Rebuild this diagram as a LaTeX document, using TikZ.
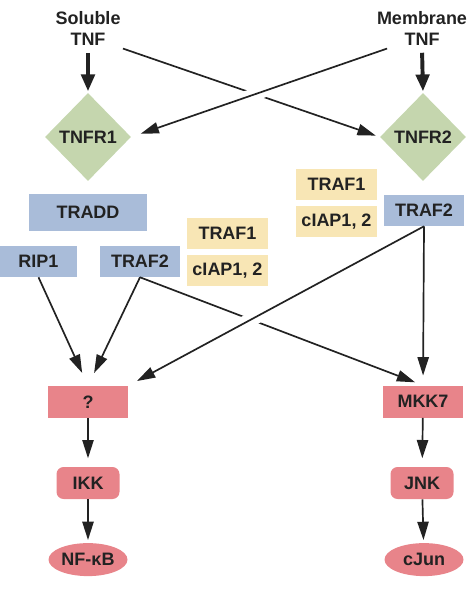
\documentclass[tikz,border=0pt]{standalone}
\usepackage{fontspec}
\setmainfont{Liberation Sans}
\usepackage{tikz}
\usetikzlibrary{calc, arrows.meta, positioning, shapes.geometric}
\usepackage{xcolor}
\definecolor{recgreen}{HTML}{C5D6AE}
\definecolor{adpblue}{HTML}{A9BCD9}
\definecolor{trafyellow}{HTML}{F8E6B5}
\definecolor{kinred}{HTML}{E8848A}
\definecolor{inkgray}{HTML}{222222}

\begin{document}
\begin{tikzpicture}[
    lbl/.style={font=\fontsize{12.8}{15}\selectfont\bfseries, text=inkgray},
    lig/.style={lbl, align=center, inner sep=2pt},
    rec/.style={lbl, diamond, fill=recgreen, minimum width=2.15cm,
                minimum height=2.2cm, inner sep=0pt},
    adp/.style={lbl, fill=adpblue, minimum width=2cm, minimum height=0.775cm},
    traf/.style={lbl, fill=trafyellow, minimum width=2.025cm, minimum height=0.775cm},
    kin/.style={lbl, fill=kinred, minimum width=2cm, minimum height=0.8cm},
    tf/.style={lbl, ellipse, fill=kinred, minimum width=1.975cm,
               minimum height=0.825cm, inner sep=0pt},
    link/.style={draw=inkgray, line width=1.2pt,
                 -{Triangle[length=13pt, width=8pt]}, shorten >=5pt},
    bind/.style={link, line width=2.8pt, -{Triangle[length=12pt, width=9.5pt]},
                 shorten >=1pt, shorten <=3pt},
    bridge/.style={preaction={draw=white, -, line width=#1,
                   shorten <=30pt, shorten >=30pt}}
  ]
    \useasboundingbox (0,0) rectangle (11.9,-14.875);

    % Ligands and receptors
    \node[lig] (sol) at (2.2,-0.71)   {Soluble\\TNF};
    \node[lig] (mem) at (10.55,-0.71) {Membrane\\TNF};
    \node[rec] (tnfr1) at (2.2,-3.425)    {TNFR1};
    \node[rec] (tnfr2) at (10.575,-3.425) {TNFR2};

    % Adaptors
    \node[adp, minimum width=2.95cm, minimum height=0.925cm] (tradd) at (2.2,-5.3125) {TRADD};
    \node[adp, minimum width=1.925cm] (rip) at (0.9625,-6.5375) {RIP1};
    \node[adp] (traf2l) at (3.5,-6.5375) {TRAF2};
    \node[traf] (traf1l) at (5.6875,-5.8375) {TRAF1};
    \node[traf] (ciapl)  at (5.6875,-6.7625) {cIAP1, 2};
    \node[traf] (traf1r) at (8.4125,-4.6125) {TRAF1};
    \node[traf] (ciapr)  at (8.4125,-5.5375) {cIAP1, 2};
    \node[adp] (traf2r) at (10.6,-5.2625) {TRAF2};

    % Kinases and transcription factors
    \node[kin] (q)   at (2.2,-10.05)    {?};
    \node[kin] (mkk) at (10.575,-10.04) {MKK7};
    \node[kin, minimum width=1.575cm, rounded corners=5pt] (ikk) at (2.2,-12.075)  {IKK};
    \node[kin, minimum width=1.575cm, rounded corners=5pt] (jnk) at (10.55,-12.075) {JNK};
    \node[tf] (nfkb) at (2.2,-13.99)  {NF-κB};
    \node[tf] (cjun) at (10.6,-13.99) {cJun};

    % Binding
    \draw[bind] (sol.south) -- (tnfr1.north);
    \draw[bind] (mem.south) -- (tnfr2.north);
    \draw[link, shorten >=3pt] (sol.-30) -- (tnfr2.west);
    \draw[link, bridge=9pt, shorten >=7pt] (mem.-150) -- (tnfr1.east);

    % Signalling
    \draw[link, shorten >=10pt] (rip.south) -- (q.north);
    \draw[link, shorten >=10pt] (traf2l.south) -- (q.north);
    \draw[link, shorten >=6pt] (traf2l.south) -- (mkk.north);
    \draw[link, bridge=10pt, shorten >=7pt] (traf2r.south) -- (q.north east);
    \draw[link, shorten >=7pt] (traf2r.south) -- (mkk.north);
    \draw[link, shorten >=6pt] (q) -- (ikk);
    \draw[link, shorten >=6pt] (mkk) -- (jnk);
    \draw[link, shorten >=2pt] (ikk) -- (nfkb);
    \draw[link, shorten >=2pt] (jnk) -- (cjun);
  \end{tikzpicture}
\end{document}
